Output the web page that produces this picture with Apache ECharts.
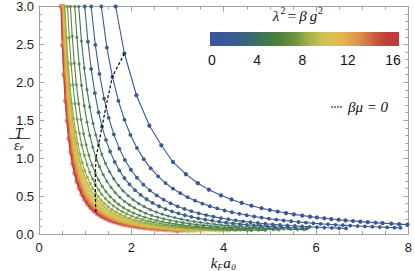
<!DOCTYPE html>
<html><head><meta charset="utf-8">
<script src="https://cdn.jsdelivr.net/npm/echarts@6/dist/echarts.min.js"></script>
<style>html,body{margin:0;padding:0;background:#fff}#c{width:415px;height:271px}</style>
</head><body><div id="c"></div>
<script>
// ---- data ----
const lambda2 = [0,1,2,3,4,5,6,7,8,9,10,11,12,13,14,15,16];
const curve0 = [[1.66,3.0],[1.85,2.38],[2.11,1.83],[2.39,1.43],[2.65,1.17],[2.90,0.95],[3.18,0.79],[3.44,0.67],[3.68,0.585],[3.94,0.51],[4.17,0.455],[4.39,0.41],[4.60,0.373],[4.82,0.34],[5.00,0.316],[5.17,0.296],[5.35,0.276],[5.52,0.259],[5.70,0.243],[5.87,0.229],[6.02,0.218],[6.18,0.207],[6.33,0.197],[6.49,0.188],[6.64,0.179],[6.80,0.171],[6.96,0.163],[7.12,0.156],[7.29,0.149],[7.44,0.143],[7.63,0.136],[7.80,0.130],[7.98,0.124]];
const curve1 = [[1.35,3.0],[1.47,2.457],[1.59,2.075],[1.72,1.755],[1.85,1.507],[1.98,1.308],[2.12,1.135],[2.27,0.987],[2.42,0.866],[2.58,0.760],[2.74,0.672],[2.90,0.599],[3.06,0.538],[3.22,0.485],[3.38,0.440],[3.54,0.401],[3.70,0.366],[3.86,0.337],[4.02,0.310],[4.18,0.287],[4.34,0.266],[4.50,0.247],[4.66,0.231],[4.82,0.216],[4.98,0.202],[5.14,0.189],[5.30,0.178],[5.46,0.168],[5.62,0.158],[5.78,0.150],[5.94,0.142],[6.10,0.134],[6.26,0.128],[6.42,0.121],[6.58,0.116],[6.74,0.110],[6.90,0.105],[7.06,0.100],[7.22,0.096],[7.38,0.092],[7.54,0.088],[7.70,0.084],[7.83,0.082]];
const curve2 = [[1.13,3.0],[1.22,2.493],[1.31,2.111],[1.41,1.785],[1.51,1.532],[1.62,1.314],[1.74,1.126],[1.86,0.977],[1.99,0.847],[2.12,0.743],[2.26,0.651],[2.40,0.575],[2.55,0.508],[2.70,0.452],[2.85,0.405],[3.00,0.365],[3.15,0.330],[3.30,0.301],[3.46,0.273],[3.62,0.249],[3.78,0.229],[3.94,0.210],[4.10,0.194],[4.26,0.180],[4.42,0.167],[4.58,0.155],[4.74,0.145],[4.90,0.135],[5.06,0.127],[5.22,0.119],[5.38,0.112],[5.54,0.106],[5.70,0.100],[5.86,0.095],[6.02,0.090],[6.18,0.085],[6.34,0.081],[6.50,0.077],[6.65,0.074]];
const curve3 = [[0.99,3.0],[1.06,2.536],[1.13,2.176],[1.21,1.857],[1.29,1.605],[1.365,1.415],[1.45,1.240],[1.54,1.088],[1.64,0.951],[1.74,0.839],[1.85,0.738],[1.96,0.654],[2.08,0.578],[2.20,0.515],[2.33,0.458],[2.46,0.410],[2.60,0.366],[2.74,0.329],[2.88,0.298],[3.02,0.271],[3.16,0.247],[3.30,0.226],[3.45,0.207],[3.60,0.190],[3.75,0.175],[3.90,0.162],[4.05,0.150],[4.20,0.139],[4.35,0.130],[4.50,0.121],[4.65,0.114],[4.80,0.107],[4.95,0.100],[5.10,0.094],[5.25,0.089],[5.40,0.084],[5.55,0.080],[5.70,0.076],[5.80,0.073]];
const curve4 = [[0.86,3.0],[0.92,2.543],[0.98,2.187],[1.04,1.904],[1.10,1.675],[1.17,1.459],[1.23,1.307],[1.29,1.178],[1.36,1.051],[1.44,0.930],[1.53,0.819],[1.62,0.726],[1.72,0.641],[1.82,0.570],[1.93,0.506],[2.04,0.451],[2.16,0.402],[2.28,0.360],[2.41,0.321],[2.54,0.289],[2.67,0.261],[2.80,0.237],[2.94,0.215],[3.08,0.196],[3.22,0.179],[3.36,0.164],[3.50,0.152],[3.65,0.139],[3.80,0.129],[3.95,0.119],[4.10,0.110],[4.25,0.103],[4.40,0.096],[4.55,0.090],[4.70,0.084],[4.85,0.079],[5.00,0.074],[5.15,0.070],[5.30,0.066],[5.45,0.062],[5.60,0.059],[5.75,0.056]];
const curve5 = [[0.774,3.0],[0.82,2.594],[0.87,2.241],[0.92,1.959],[0.98,1.690],[1.04,1.474],[1.10,1.299],[1.165,1.144],[1.235,1.005],[1.31,0.887],[1.39,0.782],[1.47,0.695],[1.56,0.614],[1.65,0.546],[1.75,0.483],[1.85,0.431],[1.96,0.383],[2.07,0.343],[2.19,0.306],[2.31,0.274],[2.44,0.245],[2.57,0.221],[2.70,0.200],[2.84,0.181],[2.98,0.164],[3.12,0.150],[3.27,0.136],[3.42,0.124],[3.57,0.114],[3.72,0.105],[3.87,0.097],[4.02,0.090],[4.17,0.084],[4.32,0.078],[4.47,0.073],[4.62,0.068],[4.77,0.064],[4.92,0.060],[5.07,0.057],[5.20,0.054]];
const curve6 = [[0.68,3.0],[0.72,2.608],[0.765,2.253],[0.81,1.969],[0.86,1.716],[0.91,1.510],[0.965,1.325],[1.02,1.174],[1.08,1.037],[1.15,0.907],[1.22,0.800],[1.29,0.712],[1.37,0.628],[1.45,0.559],[1.54,0.494],[1.63,0.439],[1.73,0.389],[1.83,0.347],[1.94,0.308],[2.05,0.276],[2.17,0.246],[2.29,0.221],[2.42,0.197],[2.55,0.178],[2.68,0.161],[2.82,0.145],[2.96,0.132],[3.10,0.120],[3.25,0.109],[3.40,0.100],[3.55,0.091],[3.70,0.084],[3.85,0.078],[4.00,0.072],[4.15,0.067],[4.30,0.062],[4.45,0.058],[4.60,0.054],[4.75,0.051],[4.90,0.048]];
const curve7 = [[0.617,3.0],[0.655,2.585],[0.695,2.242],[0.735,1.967],[0.78,1.716],[0.825,1.513],[0.875,1.328],[0.925,1.176],[0.98,1.039],[1.04,0.915],[1.10,0.813],[1.16,0.727],[1.22,0.655],[1.29,0.583],[1.36,0.523],[1.44,0.465],[1.52,0.417],[1.61,0.371],[1.70,0.332],[1.80,0.296],[1.90,0.265],[2.01,0.237],[2.12,0.212],[2.24,0.190],[2.36,0.171],[2.49,0.154],[2.62,0.139],[2.75,0.126],[2.89,0.114],[3.03,0.104],[3.17,0.095],[3.31,0.087],[3.46,0.080],[3.61,0.073],[3.76,0.067],[3.91,0.062],[4.06,0.058],[4.21,0.054],[4.36,0.050],[4.51,0.047],[4.60,0.045]];
const curve8 = [[0.56,3.0],[0.595,2.590],[0.63,2.263],[0.67,1.964],[0.71,1.723],[0.75,1.526],[0.795,1.343],[0.84,1.193],[0.89,1.054],[0.94,0.939],[0.995,0.833],[1.05,0.745],[1.11,0.664],[1.165,0.601],[1.22,0.547],[1.28,0.495],[1.35,0.444],[1.42,0.401],[1.50,0.359],[1.58,0.323],[1.67,0.289],[1.76,0.260],[1.86,0.232],[1.96,0.209],[2.07,0.187],[2.18,0.169],[2.30,0.152],[2.42,0.137],[2.55,0.123],[2.68,0.112],[2.81,0.102],[2.95,0.092],[3.09,0.084],[3.23,0.077],[3.37,0.071],[3.52,0.065],[3.67,0.060],[3.82,0.055],[3.97,0.051],[4.12,0.047],[4.27,0.044]];
const curve9 = [[0.55,3.0],[0.583,2.572],[0.616,2.234],[0.655,1.922],[0.693,1.674],[0.737,1.448],[0.781,1.266],[0.831,1.102],[0.88,0.969],[0.935,0.849],[0.99,0.750],[1.056,0.654],[1.122,0.576],[1.194,0.506],[1.265,0.448],[1.348,0.393],[1.43,0.348],[1.524,0.306],[1.617,0.271],[1.722,0.239],[1.826,0.212],[1.942,0.187],[2.063,0.165],[2.189,0.147],[2.321,0.131],[2.464,0.116],[2.613,0.103],[2.772,0.091],[2.937,0.081],[3.113,0.072],[3.30,0.064],[3.498,0.057],[3.707,0.051],[3.927,0.045],[4.098,0.042]];
const curve10 = [[0.54,3.0],[0.572,2.545],[0.605,2.191],[0.643,1.868],[0.68,1.614],[0.724,1.386],[0.767,1.206],[0.815,1.044],[0.864,0.914],[0.918,0.797],[0.972,0.702],[1.037,0.610],[1.102,0.536],[1.172,0.470],[1.242,0.415],[1.323,0.364],[1.404,0.322],[1.496,0.282],[1.588,0.250],[1.690,0.220],[1.793,0.195],[1.906,0.172],[2.025,0.152],[2.149,0.135],[2.279,0.120],[2.419,0.106],[2.565,0.095],[2.722,0.084],[2.884,0.075],[3.056,0.067],[3.24,0.059],[3.434,0.053],[3.64,0.047],[3.856,0.042]];
const curve11 = [[0.53,3.0],[0.562,2.526],[0.594,2.160],[0.631,1.830],[0.668,1.573],[0.71,1.343],[0.753,1.163],[0.80,1.003],[0.848,0.875],[0.901,0.761],[0.954,0.669],[1.018,0.580],[1.081,0.508],[1.15,0.444],[1.219,0.393],[1.299,0.344],[1.378,0.303],[1.468,0.266],[1.558,0.235],[1.659,0.207],[1.76,0.183],[1.871,0.162],[1.988,0.143],[2.109,0.127],[2.237,0.113],[2.374,0.100],[2.518,0.089],[2.671,0.079],[2.83,0.070],[3.0,0.062],[3.18,0.056],[3.371,0.049],[3.572,0.044]];
const curve12 = [[0.52,3.0],[0.551,2.511],[0.582,2.136],[0.619,1.799],[0.655,1.539],[0.697,1.308],[0.738,1.128],[0.785,0.969],[0.832,0.843],[0.884,0.731],[0.936,0.641],[0.998,0.554],[1.061,0.485],[1.128,0.424],[1.196,0.374],[1.274,0.327],[1.352,0.288],[1.44,0.253],[1.529,0.223],[1.628,0.196],[1.726,0.174],[1.836,0.153],[1.95,0.136],[2.07,0.120],[2.194,0.107],[2.33,0.095],[2.47,0.084],[2.621,0.075],[2.777,0.067],[2.943,0.059],[3.12,0.053],[3.307,0.047],[3.5,0.042]];
const curve13 = [[0.51,3.0],[0.541,2.500],[0.571,2.117],[0.607,1.776],[0.643,1.514],[0.683,1.283],[0.724,1.103],[0.77,0.945],[0.816,0.820],[0.867,0.709],[0.918,0.621],[0.979,0.536],[1.04,0.468],[1.107,0.409],[1.173,0.360],[1.25,0.315],[1.326,0.277],[1.413,0.243],[1.499,0.215],[1.596,0.189],[1.693,0.167],[1.80,0.147],[1.913,0.130],[2.03,0.115],[2.152,0.103],[2.285,0.091],[2.423,0.081],[2.57,0.072],[2.723,0.064],[2.887,0.057],[3.06,0.050],[3.244,0.045],[3.351,0.042]];
const curve14 = [[0.50,3.0],[0.53,2.493],[0.56,2.107],[0.595,1.763],[0.63,1.499],[0.67,1.267],[0.71,1.088],[0.755,0.930],[0.80,0.806],[0.85,0.696],[0.90,0.609],[0.96,0.525],[1.02,0.458],[1.085,0.400],[1.15,0.352],[1.225,0.307],[1.30,0.271],[1.385,0.237],[1.47,0.209],[1.565,0.184],[1.66,0.163],[1.765,0.144],[1.875,0.127],[1.99,0.112],[2.11,0.100],[2.24,0.088],[2.375,0.079],[2.52,0.070],[2.67,0.062],[2.83,0.055],[3.0,0.049],[3.2,0.043]];
const curve15 = [[0.49,3.0],[0.519,2.492],[0.549,2.104],[0.583,1.759],[0.617,1.496],[0.657,1.264],[0.696,1.084],[0.74,0.927],[0.784,0.803],[0.833,0.693],[0.882,0.606],[0.941,0.522],[1.0,0.456],[1.063,0.398],[1.127,0.350],[1.201,0.306],[1.274,0.269],[1.357,0.236],[1.441,0.208],[1.534,0.183],[1.627,0.162],[1.73,0.143],[1.838,0.126],[1.95,0.112],[2.068,0.099],[2.195,0.088],[2.328,0.078],[2.47,0.069],[2.617,0.062],[2.773,0.055],[2.94,0.049],[3.102,0.044]];
const curve16 = [[0.48,3.0],[0.509,2.490],[0.538,2.101],[0.571,1.756],[0.605,1.492],[0.643,1.259],[0.682,1.080],[0.725,0.922],[0.768,0.799],[0.816,0.690],[0.864,0.603],[0.922,0.519],[0.979,0.453],[1.042,0.395],[1.104,0.348],[1.176,0.304],[1.248,0.267],[1.33,0.234],[1.411,0.207],[1.502,0.181],[1.594,0.161],[1.694,0.142],[1.80,0.125],[1.91,0.111],[2.026,0.099],[2.15,0.087],[2.28,0.077],[2.419,0.069],[2.563,0.061],[2.717,0.054],[2.88,0.049],[3.0,0.044]];
const betaMuZero = [[1.85,2.38],[1.59,2.075],[1.45,1.68],[1.365,1.415],[1.29,1.178],[1.235,1.005],[1.22,0.80],[1.22,0.655],[1.22,0.547],[1.22,0.485],[1.225,0.428],[1.225,0.389],[1.228,0.355],[1.23,0.327],[1.232,0.304],[1.235,0.289],[1.238,0.272]];
const colorbarTicks = [0,4,8,12,16];

const curves = [curve0,curve1,curve2,curve3,curve4,curve5,curve6,curve7,curve8,curve9,curve10,curve11,curve12,curve13,curve14,curve15,curve16];

// ---- DarkRainbow-like colour scale (styling) ----
const stops = [
  [0.00,[59,85,152]],[0.12,[60,90,144]],[0.20,[59,102,119]],[0.28,[63,117,82]],
  [0.36,[74,127,58]],[0.45,[109,149,64]],[0.52,[163,176,70]],[0.60,[207,194,79]],
  [0.66,[224,192,82]],[0.72,[228,174,78]],[0.80,[217,138,72]],[0.88,[200,85,67]],
  [0.94,[192,60,60]],[1.00,[190,58,59]]
];
function cmap(t){
  for(let i=1;i<stops.length;i++){
    if(t<=stops[i][0]){
      const a=stops[i-1],b=stops[i],f=(t-a[0])/(b[0]-a[0]);
      const c=a[1].map((v,k)=>Math.round(v+(b[1][k]-v)*f));
      return 'rgb('+c.join(',')+')';
    }
  }
  return 'rgb('+stops[stops.length-1][1].join(',')+')';
}

const series = [];
for(let i=curves.length-1;i>=0;i--){
  const lam = lambda2[i];
  const col = cmap(lam/16);
  const heavy = lam>=9;
  series.push({
    type:'line', data:curves[i], xAxisIndex:0, yAxisIndex:0,
    symbol:'circle', showAllSymbol:true,
    symbolSize: heavy?5.5:(lam>=4?3.2:(lam===0?4.2:3.8)),
    itemStyle:{color:col, opacity: heavy?0.28:(lam>=4?0.75:1)},
    lineStyle:{color:col, width: heavy?1.6:1.1},
    silent:true, animation:false, z: 2+(16-lam)*0.01
  });
}
series.push({
  type:'line', data:betaMuZero, xAxisIndex:0, yAxisIndex:0, symbol:'none',
  lineStyle:{color:'#000', width:1.2, type:[3,2]}, silent:true, animation:false, z:5
});

const axisCol = '#a0a0a0';
const lblFont = {color:'#1a1a1a', fontSize:13, fontFamily:'Liberation Sans, Arial, sans-serif'};
const serif = 'Liberation Serif, Times New Roman, serif';
function xa(pos, showLabel){
  return {type:'value', min:0, max:8, interval:2, position:pos,
    axisLine:{show:true, onZero:false, lineStyle:{color:axisCol}},
    axisTick:{show:true, inside:true, length:5, lineStyle:{color:axisCol}},
    minorTick:{show:true, splitNumber:4, length:3, lineStyle:{color:axisCol}},
    splitLine:{show:false}, minorSplitLine:{show:false},
    axisLabel: Object.assign({show:showLabel, margin:7, hideOverlap:false}, lblFont)};
}
function ya(pos, showLabel){
  const ax = {type:'value', min:0, max:3, interval:0.5, position:pos,
    axisLine:{show:true, onZero:false, lineStyle:{color:axisCol}},
    axisTick:{show:true, inside:true, length:5, lineStyle:{color:axisCol}},
    minorTick:{show:true, splitNumber:5, length:3, lineStyle:{color:axisCol}},
    splitLine:{show:false}, minorSplitLine:{show:false},
    axisLabel: Object.assign({show:showLabel, margin:5, hideOverlap:false, showMinLabel:true, showMaxLabel:true, formatter:v=>v.toFixed(1)}, lblFont)};
  if(showLabel){
    // axis title T / ε_F, placed in the gap between the 1.5 and 1.0 tick labels
    ax.name = '{t|T}\n{e|ε}{f|F}';
    ax.nameLocation = 'middle';
    ax.nameRotate = 0;
    ax.nameGap = 20;
    ax.nameMoveOverlap = false;
    ax.nameTextStyle = {align:'center', verticalAlign:'middle', padding:[38,0,0,0],
      rich:{
        t:{fontFamily:serif, fontStyle:'italic', fontSize:14, color:'#111', lineHeight:13, align:'center'},
        e:{fontFamily:serif, fontStyle:'italic', fontSize:14, color:'#111', lineHeight:12},
        f:{fontFamily:serif, fontStyle:'italic', fontSize:7, color:'#111', lineHeight:12, verticalAlign:'bottom', padding:[3,0,0,0]}
      }};
  }
  return ax;
}

function txt(s, x, y, font, align){
  return {type:'text', x:x, y:y, silent:true,
    style:{text:s, fill:'#111', font:font, align:align||'center', verticalAlign:'middle'}};
}
const graphic = [];
// colour bar
const cbX=210, cbY=32, cbW=189, cbH=14;
graphic.push({type:'rect', shape:{x:cbX,y:cbY,width:cbW,height:cbH}, silent:true,
  style:{fill:new echarts.graphic.LinearGradient(0,0,1,0, stops.map(s=>({offset:s[0], color:'rgb('+s[1].join(',')+')'})))}});
colorbarTicks.forEach(v=>{
  graphic.push(txt(String(v), 212+(393-212)*v/16, 60, '14px Liberation Sans, Arial, sans-serif'));
});
// colour bar title  λ² = β g²
graphic.push(txt('λ', 276, 16, 'italic 15px '+serif));
graphic.push(txt('2', 283, 10, '10px '+serif));
graphic.push(txt('=', 292, 16, '15px '+serif));
graphic.push(txt('β', 303, 16, 'italic 15px '+serif));
graphic.push(txt('g', 313.5, 16, 'italic 15px '+serif));
graphic.push(txt('2', 320.5, 10, '10px '+serif));
// legend for dashed line
graphic.push({type:'line', shape:{x1:331,y1:107,x2:343,y2:107}, silent:true, style:{stroke:'#000', lineWidth:1, lineDash:[2,1]}});
graphic.push(txt('βμ = 0', 348, 107, 'italic 15px '+serif, 'left'));
// fraction bar of the y title
graphic.push({type:'line', shape:{x1:9,y1:138.5,x2:30,y2:138.5}, silent:true, style:{stroke:'#111', lineWidth:0.8}});
// x axis label  k_F a_0
graphic.push(txt('k', 214, 263, 'italic 15px '+serif));
graphic.push(txt('F', 220, 267, 'italic 8px '+serif));
graphic.push(txt('a', 227, 263, 'italic 15px '+serif));
graphic.push(txt('0', 233.5, 267, 'italic 9px '+serif));

const chart = echarts.init(document.getElementById('c'), null, {renderer:'svg', width:415, height:271});
chart.setOption({
  animation:false,
  backgroundColor:'#fff',
  grid:{left:39, right:4, top:5, bottom:37, containLabel:false},
  xAxis:[xa('bottom',true), xa('top',false)],
  yAxis:[ya('left',true), ya('right',false)],
  series: series,
  graphic: graphic
});
</script></body></html>
